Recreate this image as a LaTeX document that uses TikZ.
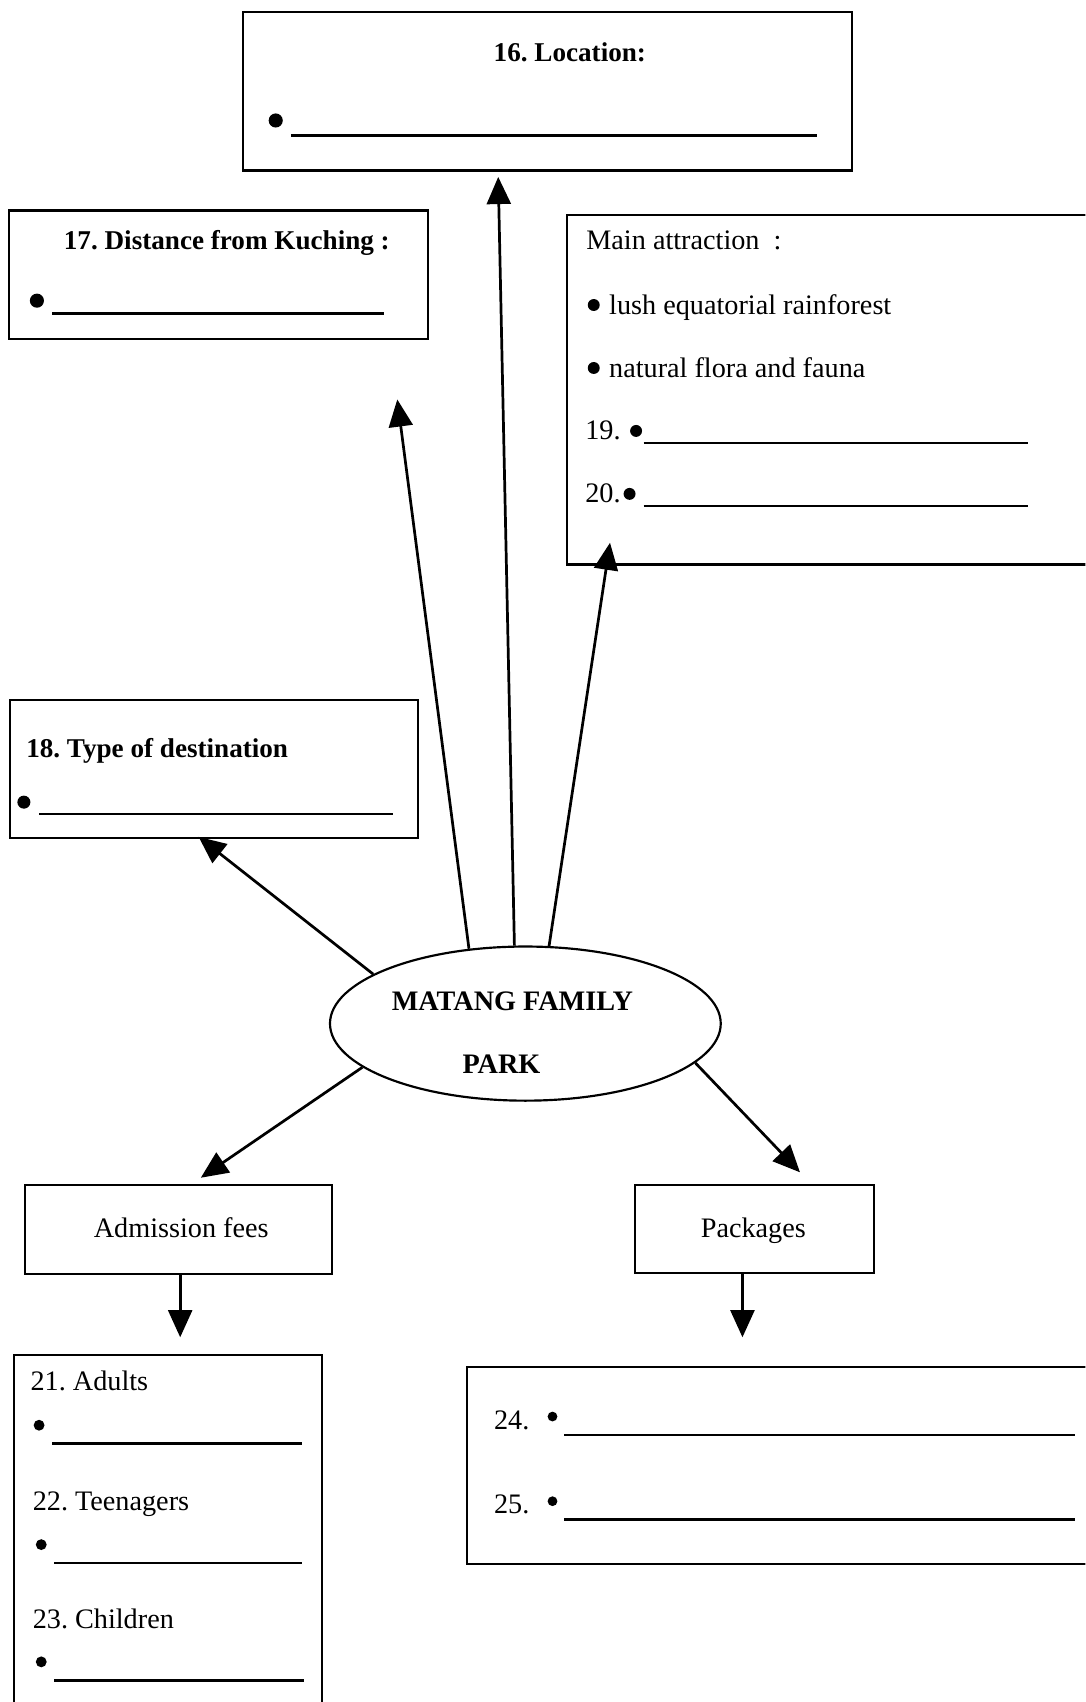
\documentclass[tikz,border=0pt]{standalone}
\usepackage{fontspec}
\setmainfont{Liberation Serif}
\frenchspacing
\usetikzlibrary{arrows.meta,shapes.geometric}
\tikzset{
  boxf/.style={draw,line width=2pt},
  lbl/.style={inner sep=0pt,font=\fontsize{26}{30}\selectfont},
  blbl/.style={inner sep=0pt,font=\fontsize{25}{30}\selectfont\bfseries},
  dot/.style={circle,fill=black,inner sep=0pt,minimum size=#1},
  dot/.default=12pt,
  blank/.style={line width=2.4pt},
  conn/.style={line width=2.5pt,-{Triangle[length=25pt,width=22pt]}}
}
\begin{document}
\begin{tikzpicture}[x=1pt,y=-1pt]
\useasboundingbox (0,0) rectangle (1000,1568);
\clip (0,0) rectangle (1000,1568);
\fill[white] (0,0) rectangle (1000,1568);
% box 16
\draw[boxf] (224,11) rectangle (785,157);
\node[blbl,anchor=base] (t16) at (525,57) {16. Location:};
\node[dot=13pt] (b16) at (254,111) {};
\draw[blank] (268,125) -- (753,125);
% box 17
\draw[boxf] (8,194) rectangle (394,312);
\node[blbl,anchor=base] (t17) at (209,230) {17. Distance from Kuching :};
\node[dot=13pt] (b17) at (34,277) {};
\draw[blank] (48,289) -- (354,289);
% main attraction
\draw[boxf] (522,198) rectangle (1020,520);
\node[lbl,anchor=base west] (tm) at (540,230) {Main attraction\ \ :};
\node[dot=11pt] (bm1) at (547,281) {};
\node[lbl,anchor=base west] (tm1) at (561,290) {lush equatorial rainforest};
\node[dot=11pt] (bm2) at (547,339) {};
\node[lbl,anchor=base west] (tm2) at (561,348) {natural flora and fauna};
\node[lbl,anchor=base west] (t19) at (539,405) {19.};
\node[dot=11pt] (b19) at (586,397) {};
\draw[blank] (593,408) -- (947,408);
\node[lbl,anchor=base west] (t20) at (539,463) {20.};
\node[dot=11pt] (b20) at (580,455) {};
\draw[blank] (593,466) -- (947,466);
% box 18
\draw[boxf] (9,645) rectangle (385,772);
\node[blbl,anchor=base west] (t18) at (24,698) {18. Type of destination};
\node[dot=12pt] (b18) at (22,739) {};
\draw[blank] (36,750) -- (362,750);
% ellipse
\node[draw,line width=2pt,ellipse,minimum width=360pt,minimum height=142pt,inner sep=0pt] (park) at (484,943) {};
\node[inner sep=0pt,font=\fontsize{26}{30}\selectfont\bfseries] (pk1) at (472,922) {MATANG FAMILY};
\node[inner sep=0pt,font=\fontsize{26}{30}\selectfont\bfseries] (pk2) at (462,980) {PARK};
% admission / packages
\node[boxf,minimum width=283pt,minimum height=82pt,inner sep=0pt] (adm) at (164.5,1133) {};
\node[lbl,anchor=base] (tadm) at (167,1140) {Admission fees};
\node[boxf,minimum width=220pt,minimum height=81pt,inner sep=0pt] (pkg) at (695,1132.5) {};
\node[lbl,anchor=base] (tpkg) at (694,1140) {Packages};
% box 21-23
\draw[boxf] (13,1248) rectangle (297,1590);
\node[lbl,anchor=base west] (t21) at (28,1281) {21. Adults};
\node[dot=10pt] (b21) at (36,1313) {};
\draw[blank] (48,1330) -- (278,1330);
\node[lbl,anchor=base west] (t22) at (30,1392) {22. Teenagers};
\node[dot=10pt] (b22) at (38,1423) {};
\draw[blank] (50,1440) -- (278,1440);
\node[lbl,anchor=base west] (t23) at (30,1500) {23. Children};
\node[dot=10pt] (b23) at (38,1531) {};
\draw[blank] (50,1548) -- (280,1548);
% box 24-25
\draw[boxf] (430,1259) rectangle (1020,1441);
\node[lbl,anchor=base west] (t24) at (455,1317) {24.};
\node[dot=9pt] (b24) at (509,1305) {};
\draw[blank] (520,1322) -- (990,1322);
\node[lbl,anchor=base west] (t25) at (455,1394) {25.};
\node[dot=9pt] (b25) at (509,1383) {};
\draw[blank] (520,1400) -- (990,1400);
% arrow end points
\coordinate (e16) at (459,163);
\coordinate (e17) at (366,368);
\coordinate (em) at (562,500);
\coordinate (e18) at (183,771);
\coordinate (eadm) at (185,1085);
\coordinate (epkg) at (737,1080);
\coordinate (e21) at (166,1232);
\coordinate (e24) at (684,1232);
% connectors
\draw[conn] (park.98.7) -- (e16);
\draw[conn] (park.127) -- (e17);
\draw[conn] (park.73) -- (em);
\draw[conn] (park.162.7) -- (e18);
\draw[conn] (park.195) -- (eadm);
\draw[conn] (park.347) -- (epkg);
\draw[conn] (adm.south -| e21) -- (e21);
\draw[conn] (pkg.south -| e24) -- (e24);
\end{tikzpicture}
\end{document}
